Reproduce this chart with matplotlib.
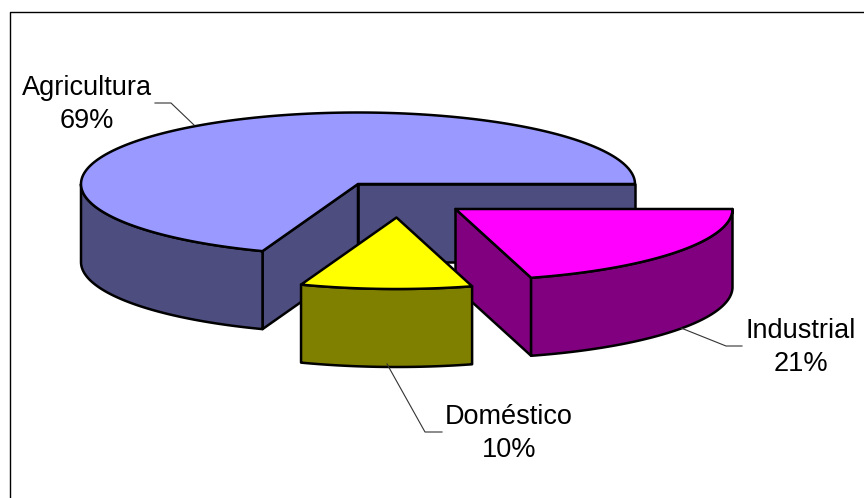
import numpy as np
import matplotlib
matplotlib.use('Agg')
import matplotlib.pyplot as plt

plt.rcParams['font.family'] = ['Liberation Sans', 'DejaVu Sans']

# Data, counter-clockwise from the right-hand point of the pie
# (the labels show them rounded)
categories = ['Agricultura', 'Doméstico', 'Industrial']
shares = [69.4, 10.0, 20.6]

top_colors = ['#9999FF', '#FFFF00', '#FF00FF']
side_colors = ['#4D4D80', '#808000', '#800080']

# Pie geometry in pixels
rx = 277
ry = 71.5
depth = 78
centers = [(358, 184), (396.5, 217.5), (455.5, 209)]
lw = 1.8


def arc(cx, cy, t0, t1):
    t = np.radians(np.linspace(t0, t1, 200))
    return cx + rx * np.cos(t), cy - ry * np.sin(t)


def rim(cx, cy, angle):
    t = np.radians(angle)
    return cx + rx * np.cos(t), cy - ry * np.sin(t)


def wall(ax, cx, cy, angle, color):
    # flat cut face between the centre and the rim
    x, y = rim(cx, cy, angle)
    ax.fill([cx, x, x, cx], [cy, y, y + depth, cy + depth],
            facecolor=color, edgecolor='black', lw=lw, joinstyle='round')


def outer_side(ax, cx, cy, t0, t1, color):
    x, y = arc(cx, cy, t0, t1)
    ax.fill(np.r_[x, x[::-1]], np.r_[y, y[::-1] + depth],
            facecolor=color, edgecolor='black', lw=lw, joinstyle='round')


def top_face(ax, cx, cy, t0, t1, color):
    x, y = arc(cx, cy, t0, t1)
    ax.fill(np.r_[cx, x], np.r_[cy, y],
            facecolor=color, edgecolor='black', lw=lw, joinstyle='round')


fig = plt.figure(figsize=(8.64, 4.98), dpi=100)
ax = fig.add_axes([0, 0, 1, 1])
ax.set_xlim(0, 864)
ax.set_ylim(498, 0)
ax.axis('off')

# chart area border, only left and top fall inside the picture
ax.plot([10, 10, 864], [498, 12, 12], color='black', lw=1)

edges = np.cumsum([0] + shares) * 3.6

# Agricultura
cx, cy = centers[0]
wall(ax, cx, cy, edges[0], side_colors[0])
wall(ax, cx, cy, edges[1], side_colors[0])
outer_side(ax, cx, cy, 180, edges[1], side_colors[0])
top_face(ax, cx, cy, edges[0], edges[1], top_colors[0])

# Industrial
cx, cy = centers[2]
wall(ax, cx, cy, edges[2], side_colors[2])
outer_side(ax, cx, cy, edges[2], edges[3], side_colors[2])
top_face(ax, cx, cy, edges[2], edges[3], top_colors[2])

# Doméstico
cx, cy = centers[1]
outer_side(ax, cx, cy, edges[1], edges[2], side_colors[1])
top_face(ax, cx, cy, edges[1], edges[2], top_colors[1])

# Leader lines
ax.plot([155, 171, 194], [103, 103, 125], color='#333333', lw=0.8)
ax.plot([742, 726, 681], [346, 346, 328], color='#333333', lw=0.8)
ax.plot([442, 425, 387], [432, 432, 364], color='#333333', lw=0.8)

# Labels
label_pos = [(87, 104), (509, 433.5), (801, 347)]
for name, share, (x, y) in zip(categories, shares, label_pos):
    ax.text(x, y, f'{name}\n{share:.0f}%', ha='center', va='center',
            fontsize=19.5, linespacing=1.35, color='black')

plt.savefig('out.png', dpi=100)
plt.close()
